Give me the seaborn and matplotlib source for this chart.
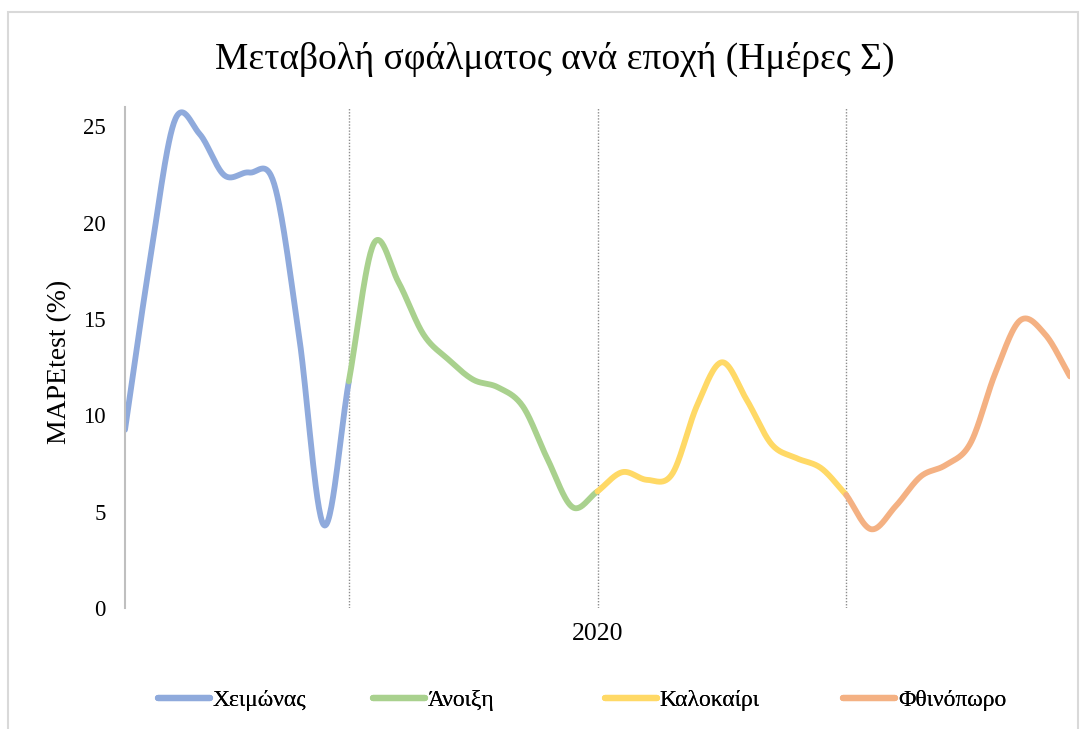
import numpy as np
import pandas as pd
import matplotlib.pyplot as plt
import seaborn as sns
from matplotlib.patches import Rectangle

# ========================= DATA =========================
seasons = ['Χειμώνας', 'Άνοιξη', 'Καλοκαίρι', 'Φθινόπωρο']
colors = ['#8FAADC', '#A9D18E', '#FFD966', '#F4B183']

# category index along the x axis (39 points, neighbouring seasons share an end point)
x_winter = list(range(0, 10))
x_spring = list(range(9, 20))
x_summer = list(range(19, 30))
x_autumn = list(range(29, 39))

mape_winter = [9.25, 18.0, 25.3, 24.6, 22.45, 22.6, 22.0, 14.1, 4.3, 11.76]
mape_spring = [11.76, 18.9, 16.9, 14.2, 12.9, 11.85, 11.45, 10.46, 7.7, 5.23, 6.05]
mape_summer = [6.05, 7.05, 6.65, 6.95, 10.5, 12.75, 10.8, 8.5, 7.78, 7.25, 5.87]
mape_autumn = [5.87, 4.09, 5.3, 6.83, 7.42, 8.56, 12.2, 14.93, 14.2, 12.02]

year_label = '2020'
year_pos = 19
dividers = [9, 19, 29]


def smooth(x, y, n=30):
    # Excel-style smoothed line (Catmull-Rom / cubic Hermite through the points)
    x = np.asarray(x, float)
    y = np.asarray(y, float)
    m = np.zeros_like(y)
    m[1:-1] = (y[2:] - y[:-2]) / 2
    m[0] = y[1] - y[0]
    m[-1] = y[-1] - y[-2]
    xs, ys = [], []
    t = np.linspace(0, 1, n, endpoint=False)
    for i in range(len(y) - 1):
        h00 = 2*t**3 - 3*t**2 + 1
        h10 = t**3 - 2*t**2 + t
        h01 = -2*t**3 + 3*t**2
        h11 = t**3 - t**2
        ys.append(h00*y[i] + h10*m[i] + h01*y[i+1] + h11*m[i+1])
        xs.append(x[i] + t*(x[i+1] - x[i]))
    xs.append([x[-1]])
    ys.append([y[-1]])
    return np.concatenate(xs), np.concatenate(ys)


frames = []
for name, xx, yy in zip(seasons,
                        [x_winter, x_spring, x_summer, x_autumn],
                        [mape_winter, mape_spring, mape_summer, mape_autumn]):
    sx, sy = smooth(xx, yy)
    frames.append(pd.DataFrame({'x': sx, 'y': sy, 'season': name}))
df = pd.concat(frames, ignore_index=True)

# ========================= PLOT =========================
sns.set_theme(style='white')
plt.rcParams['font.family'] = ['Liberation Serif', 'DejaVu Serif']
plt.rcParams['text.color'] = 'black'
plt.rcParams['axes.labelcolor'] = 'black'

fig = plt.figure(figsize=(10.86, 7.29), dpi=100)
ax = fig.add_axes([125/1086, 121/729, 945/1086, 501/729])

sns.lineplot(data=df, x='x', y='y', hue='season', palette=colors,
             hue_order=seasons, linewidth=4.2, sort=False, estimator=None,
             ax=ax, solid_capstyle='round', legend=True)

for d in dividers:
    ax.axvline(d, color='#8C8C8C', linestyle=(0, (1, 1.2)), linewidth=1.0, zorder=0)

ax.set_xlim(0, 38)
ax.set_ylim(0, 26)
ax.set_yticks([0, 5, 10, 15, 20, 25])
ax.set_xticks([year_pos])
ax.set_xticklabels([year_label], fontsize=18.5)
ax.tick_params(axis='y', length=0, labelsize=16.5, colors='black', pad=14)
ax.tick_params(axis='x', length=0, colors='black', pad=11)

for s in ['top', 'right', 'bottom']:
    ax.spines[s].set_visible(False)
ax.spines['left'].set_color('#BFBFBF')
ax.spines['left'].set_linewidth(1.5)
ax.spines['left'].set_bounds(0, 26)

ax.set_xlabel('')
ax.set_ylabel('MAPEtest (%)', fontsize=20)
ax.yaxis.set_label_coords((72 - 125) / 945, (729 - 121 - 362) / 501)

fig.suptitle('Μεταβολή σφάλματος ανά εποχή (Ημέρες Σ)', fontsize=27,
             x=555/1086, y=0.942)

# legend: one entry per slot, placed like the Excel legend
handles, labels = ax.get_legend_handles_labels()
ax.get_legend().remove()
legend_x = [158, 373, 605, 843]
for h, lab, lx in zip(handles, labels, legend_x):
    h.set_linewidth(4.5)
    h.set_solid_capstyle('round')
    leg = fig.legend([h], [lab], loc='center left',
                     bbox_to_anchor=(lx/1086, 29/729), frameon=False,
                     fontsize=17, handlelength=2.2, handletextpad=0.12,
                     borderpad=0, borderaxespad=0)
    fig.add_artist(leg)

fig.patches.append(Rectangle((8/1086, -0.05), 1070/1086, (729-12)/729 + 0.05,
                             transform=fig.transFigure, fill=False,
                             edgecolor='#D9D9D9', linewidth=1.5))

fig.savefig('out.png', dpi=100)
